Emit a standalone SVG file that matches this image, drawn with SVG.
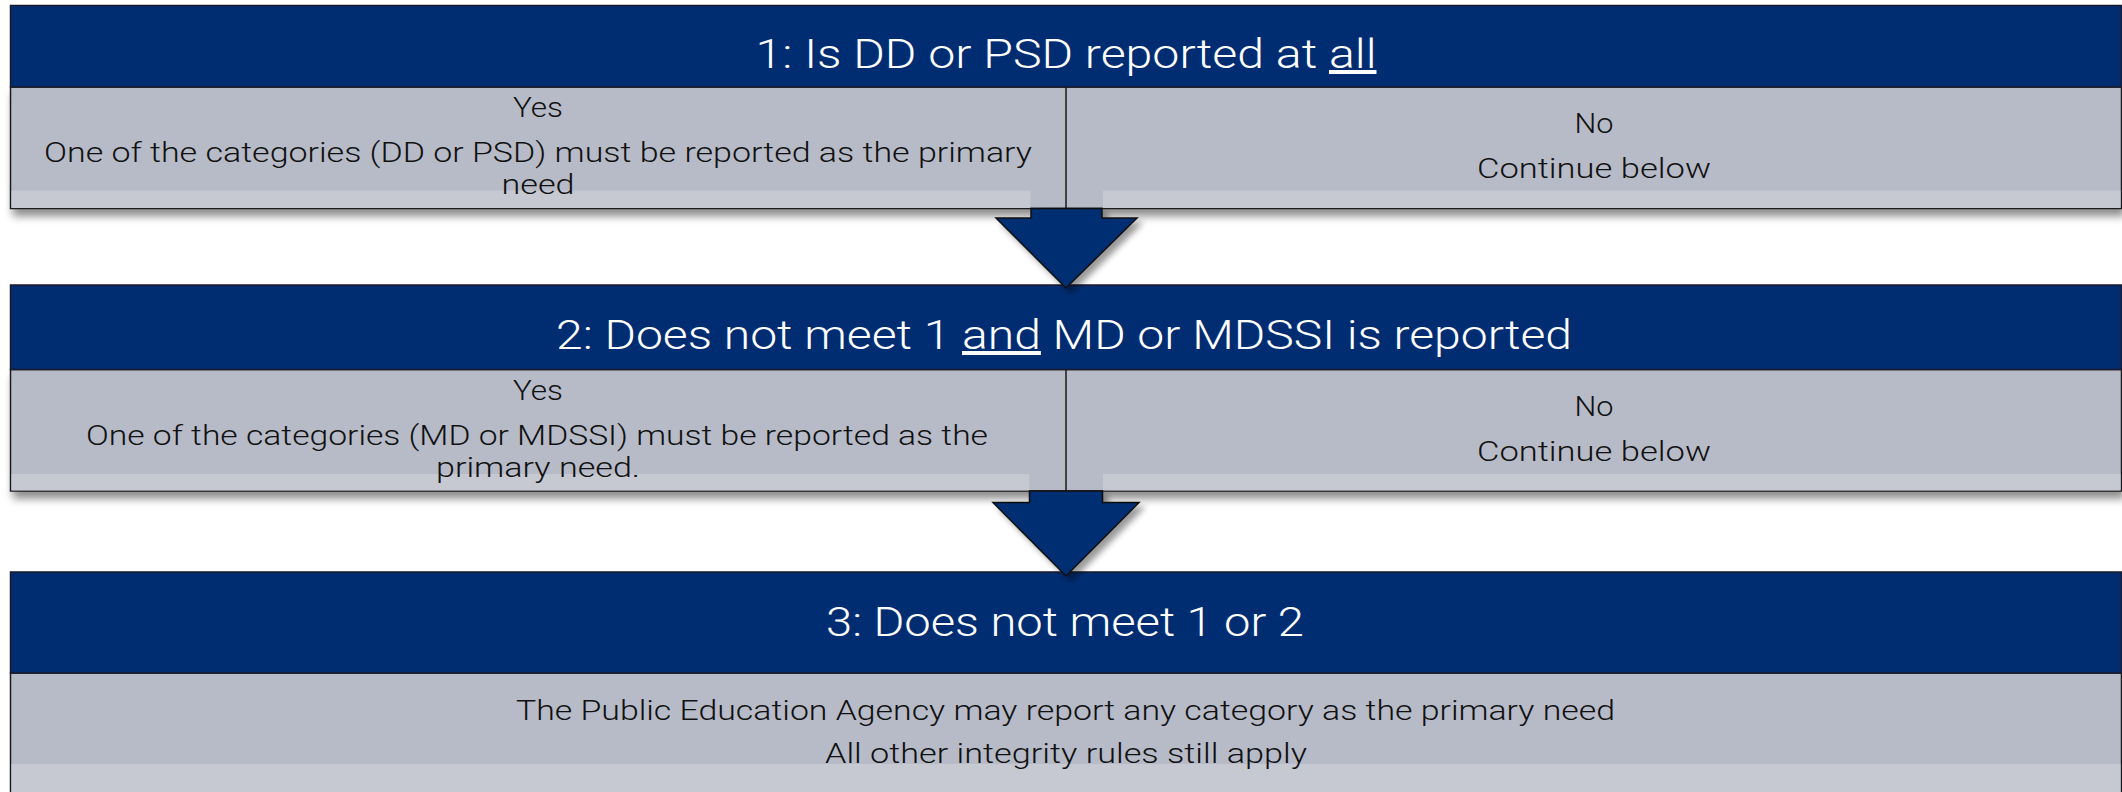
<svg xmlns="http://www.w3.org/2000/svg" width="2122" height="792" viewBox="0 0 2122 792">
<defs>
<filter id="sh" x="-5%" y="-20%" width="110%" height="150%">
<feGaussianBlur in="SourceAlpha" stdDeviation="4"/>
<feOffset dx="3" dy="7" result="b"/>
<feComponentTransfer><feFuncA type="linear" slope="0.45"/></feComponentTransfer>
<feMerge><feMergeNode/><feMergeNode in="SourceGraphic"/></feMerge>
</filter>
<filter id="ash" x="-30%" y="-30%" width="160%" height="160%">
<feGaussianBlur in="SourceAlpha" stdDeviation="3"/>
<feOffset dx="5" dy="5" result="b"/>
<feComponentTransfer><feFuncA type="linear" slope="0.4"/></feComponentTransfer>
<feMerge><feMergeNode/><feMergeNode in="SourceGraphic"/></feMerge>
</filter>
</defs>
<style>
.hdr{fill:#002d72;stroke:#1a1a2a;stroke-width:1.5}
.cell{fill:#b7bbc8;stroke:#1a1a1a;stroke-width:1.5}
.band{fill:#c6c8d2}
.div{stroke:#1a1a1a;stroke-width:1.5}
.ttl{font-family:Roboto,"Liberation Sans",sans-serif;font-weight:300;font-size:40px;fill:#ffffff;text-anchor:middle}
.txt{font-family:Roboto,"Liberation Sans",sans-serif;font-weight:300;font-size:27px;fill:#111111;text-anchor:middle}
.arr{fill:#002d72;stroke:#111;stroke-width:1.5;stroke-linejoin:miter}
</style>
<rect width="2122" height="792" fill="#ffffff"/>

<g id="node1">
<g filter="url(#sh)">
<rect class="cell" x="10.5" y="87" width="2111" height="121.5"/>
</g>
<rect class="band" x="11.5" y="190.5" width="1019" height="17.5"/>
<rect class="band" x="1103" y="190.5" width="1017.5" height="17.5"/>
<rect class="hdr" x="10.5" y="5.5" width="2111" height="81.5"/>
<line class="div" x1="1066" y1="87" x2="1066" y2="208.5"/>
<text class="ttl" x="1066" y="68" textLength="621" lengthAdjust="spacingAndGlyphs">1: Is DD or PSD reported at <tspan text-decoration="underline">all</tspan></text>
<text class="txt" x="538" y="117" textLength="50" lengthAdjust="spacingAndGlyphs">Yes</text>
<text class="txt" x="538" y="162" textLength="988" lengthAdjust="spacingAndGlyphs">One of the categories (DD or PSD) must be reported as the primary</text>
<text class="txt" x="538" y="194" textLength="73" lengthAdjust="spacingAndGlyphs">need</text>
<text class="txt" x="1594" y="133" textLength="39" lengthAdjust="spacingAndGlyphs">No</text>
<text class="txt" x="1594" y="178" textLength="234" lengthAdjust="spacingAndGlyphs">Continue below</text>
</g>

<g id="node2">
<g filter="url(#sh)">
<rect class="cell" x="10.5" y="369.5" width="2111" height="121.5"/>
</g>
<rect class="band" x="11.5" y="474" width="1018" height="16.5"/>
<rect class="band" x="1103" y="474" width="1017.5" height="16.5"/>
<rect class="hdr" x="10.5" y="285" width="2111" height="84.5"/>
<line class="div" x1="1066" y1="369.5" x2="1066" y2="491"/>
<text class="ttl" x="1064" y="349" textLength="1016" lengthAdjust="spacingAndGlyphs">2: Does not meet 1 <tspan text-decoration="underline">and</tspan> MD or MDSSI is reported</text>
<text class="txt" x="538" y="400" textLength="50" lengthAdjust="spacingAndGlyphs">Yes</text>
<text class="txt" x="537" y="445" textLength="902" lengthAdjust="spacingAndGlyphs">One of the categories (MD or MDSSI) must be reported as the</text>
<text class="txt" x="538" y="477" textLength="204" lengthAdjust="spacingAndGlyphs">primary need.</text>
<text class="txt" x="1594" y="416" textLength="39" lengthAdjust="spacingAndGlyphs">No</text>
<text class="txt" x="1594" y="461" textLength="234" lengthAdjust="spacingAndGlyphs">Continue below</text>
</g>

<g id="node3">
<rect class="cell" x="10.5" y="673" width="2111" height="130"/>
<rect class="band" x="11.5" y="764" width="2109" height="30"/>
<rect class="hdr" x="10.5" y="572" width="2111" height="101"/>
<text class="ttl" x="1065" y="636" textLength="478" lengthAdjust="spacingAndGlyphs">3: Does not meet 1 or 2</text>
<text class="txt" x="1065.5" y="720" textLength="1099" lengthAdjust="spacingAndGlyphs">The Public Education Agency may report any category as the primary need</text>
<text class="txt" x="1066" y="763" textLength="482" lengthAdjust="spacingAndGlyphs">All other integrity rules still apply</text>
</g>

<g id="connectors">
<polygon class="arr" filter="url(#ash)" points="1031,208.5 1031,218 996,218 1066,288 1137,218 1102,218 1102,208.5"/>
<polygon class="arr" filter="url(#ash)" points="1029.5,491 1029.5,502.5 993,502.5 1066,576 1139,502.5 1102.5,502.5 1102.5,491"/>
</g>
</svg>
